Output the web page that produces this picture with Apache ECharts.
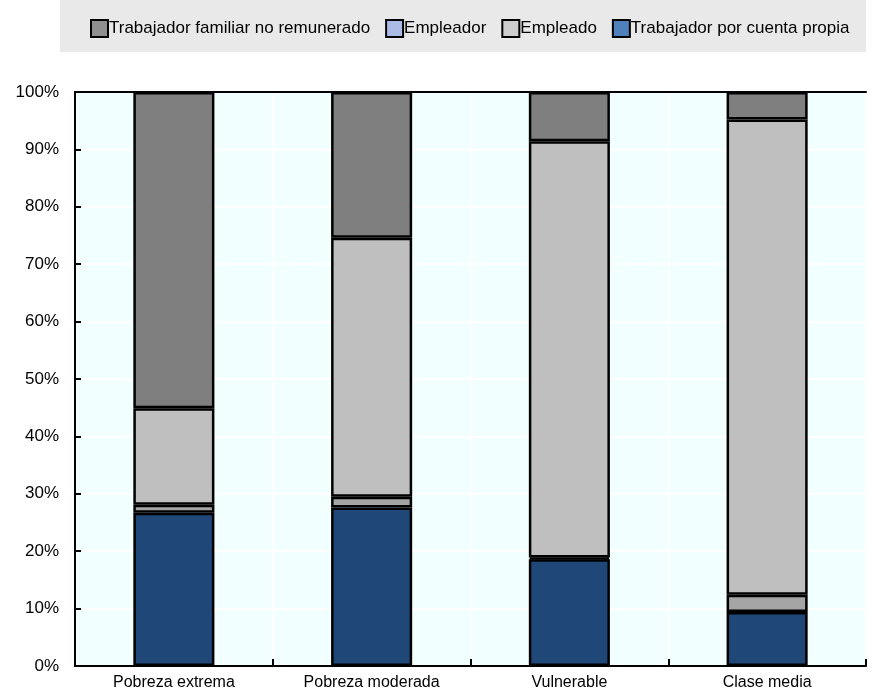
<!DOCTYPE html>
<html>
<head>
<meta charset="utf-8">
<script src="https://cdn.jsdelivr.net/npm/echarts@6/dist/echarts.min.js"></script>
<style>html,body{margin:0;padding:0;background:#fff}#c{width:872px;height:694px}</style>
</head>
<body>
<div id="c"></div>
<script>
var categories = ['Pobreza extrema', 'Pobreza moderada', 'Vulnerable', 'Clase media'];
var cuentaPropia = [26.7, 27.6, 18.6, 9.4];
var empleador = [1.4, 1.9, 0.3, 3.0];
var empleado = [16.8, 45.1, 72.5, 82.8];
var familiar = [55.1, 25.4, 8.6, 4.8];
var yTicks = [0, 10, 20, 30, 40, 50, 60, 70, 80, 90, 100];

var FONT = '"Liberation Sans", Arial, sans-serif';
var chart = echarts.init(document.getElementById('c'), null, {renderer: 'canvas'});

function bar(name, data, color) {
  return {
    name: name, type: 'bar', stack: 'total', data: data, barWidth: '41%',
    itemStyle: {color: color, borderColor: '#000', borderWidth: 2.5},
    emphasis: {disabled: true}
  };
}

chart.setOption({
  animation: false,
  graphic: [{type: 'rect', left: 60, top: 0, shape: {width: 806, height: 52}, style: {fill: '#e9e9e9'}, z: -10}],
  legend: {
    top: 14, left: 85, itemWidth: 17, itemHeight: 17, itemGap: 15, icon: 'rect',
    textStyle: {fontFamily: FONT, fontSize: 17, color: '#000', padding: [0, 0, 0, -4]},
    data: [
      {name: 'Trabajador familiar no remunerado', itemStyle: {color: '#8f8f8f', borderColor: '#000', borderWidth: 2}},
      {name: 'Empleador', itemStyle: {color: '#a9bbe5', borderColor: '#000', borderWidth: 2}},
      {name: 'Empleado', itemStyle: {color: '#cccccc', borderColor: '#000', borderWidth: 2}},
      {name: 'Trabajador por cuenta propia', itemStyle: {color: '#4f81bd', borderColor: '#000', borderWidth: 2}}
    ]
  },
  grid: {left: 75, right: 6, top: 92, bottom: 28, show: true, backgroundColor: '#f1ffff', borderWidth: 0},
  xAxis: [{
    type: 'category', data: categories,
    axisLine: {lineStyle: {color: '#000', width: 2}},
    axisTick: {show: true, inside: true, length: 7, lineStyle: {color: '#000', width: 2}},
    axisLabel: {fontFamily: FONT, fontSize: 16, color: '#000', margin: 9},
    splitLine: {show: true, lineStyle: {color: '#ffffff', width: 2}}
  }, {
    type: 'category', data: categories, position: 'top',
    axisLine: {lineStyle: {color: '#000', width: 2}},
    axisTick: {show: false}, axisLabel: {show: false}
  }],
  yAxis: {
    type: 'value', min: 0, max: 100, interval: 10,
    axisLine: {show: true, lineStyle: {color: '#000', width: 2}},
    axisTick: {show: true, inside: true, length: 6, lineStyle: {color: '#000', width: 2}},
    axisLabel: {fontFamily: FONT, fontSize: 17, color: '#000', margin: 16,
      formatter: function (v) { return yTicks.indexOf(v) >= 0 ? v + '%' : ''; }},
    splitLine: {show: true, lineStyle: {color: '#ffffff', width: 2}}
  },
  series: [
    bar('Trabajador por cuenta propia', cuentaPropia, '#1f4778'),
    bar('Empleador', empleador, '#a5a5a5'),
    bar('Empleado', empleado, '#bfbfbf'),
    bar('Trabajador familiar no remunerado', familiar, '#7f7f7f')
  ]
});
</script>
</body>
</html>
